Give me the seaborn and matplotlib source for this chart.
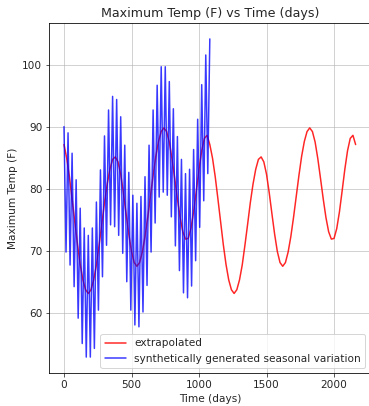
import matplotlib
matplotlib.use("Agg")
import matplotlib.pyplot as plt
import seaborn as sns
import pandas as pd

# ---- data ----
red_days = list(range(0, 2161, 20))
red_temp = [
    87.2, 85.0, 82.0, 78.4, 74.7, 71.0, 67.8, 65.3, 63.7, 63.1,
    63.7, 65.3, 67.7, 70.9, 74.3, 77.8, 80.8, 83.2, 84.8, 85.2,
    84.4, 82.4, 79.4, 76.0, 72.7, 69.9, 68.1, 67.5, 68.1, 69.8,
    72.3, 75.4, 78.8, 82.2, 85.3, 87.7, 89.3, 89.9, 89.3, 87.6,
    84.9, 81.7, 78.4, 75.4, 73.1, 71.9, 72.0, 73.6, 76.3, 79.7,
    83.2, 86.2, 88.2, 88.7,
    87.2, 85.0, 82.0, 78.4, 74.7, 71.0, 67.8, 65.3, 63.7, 63.1,
    63.7, 65.3, 67.7, 70.9, 74.3, 77.8, 80.8, 83.2, 84.8, 85.2,
    84.4, 82.4, 79.4, 76.0, 72.7, 69.9, 68.1, 67.5, 68.1, 69.8,
    72.3, 75.4, 78.8, 82.2, 85.3, 87.7, 89.3, 89.9, 89.3, 87.6,
    84.9, 81.7, 78.4, 75.4, 73.1, 71.9, 72.0, 73.6, 76.3, 79.7,
    83.2, 86.2, 88.2, 88.7, 87.2,
]

blue_days = list(range(0, 1081, 15))
blue_temp = [
    90.1, 69.8, 89.1, 67.7, 85.8, 64.2, 81.5, 59.1, 76.9, 55.0,
    73.7, 52.8, 72.5, 52.8, 73.7, 54.2, 77.9, 60.4, 83.1, 65.8,
    88.6, 70.9, 92.8, 74.2, 95.0, 73.9, 94.5, 72.5, 91.7, 69.6,
    87.1, 65.0, 82.7, 60.4, 79.0, 58.0, 77.7, 57.7, 78.8, 60.1,
    82.0, 64.4, 87.1, 69.8, 92.8, 74.5, 96.8, 78.7, 99.8, 79.5,
    99.8, 79.0, 97.4, 75.5, 93.0, 70.8, 88.5, 66.8, 84.8, 63.2,
    82.5, 62.4, 83.2, 64.3, 86.4, 68.4, 91.3, 73.8, 96.9, 78.1,
    101.7, 82.5, 104.3,
]

red_label = "extrapolated"
blue_label = "synthetically generated seasonal variation"
title = "Maximum Temp (F) vs Time (days)"
xlabel = "Time (days)"
ylabel = "Maximum Temp (F)"

red_df = pd.DataFrame({"day": red_days, "temp": red_temp})
blue_df = pd.DataFrame({"day": blue_days, "temp": blue_temp})

sns.set_style("ticks")
plt.rcParams["font.family"] = ["DejaVu Sans"]

fig = plt.figure(figsize=(369 / 72, 406 / 72), dpi=72)
ax = fig.add_axes([0.1339, 0.0813, 0.8694, 0.862])

sns.lineplot(data=red_df, x="day", y="temp", color="red", alpha=0.85,
             linewidth=1.5, label=red_label, ax=ax)
sns.lineplot(data=blue_df, x="day", y="temp", color="blue", alpha=0.78,
             linewidth=1.5, label=blue_label, ax=ax)

ax.grid(True, color="#b0b0b0", linewidth=0.8, alpha=0.7)
ax.set_axisbelow(True)
for s in ax.spines.values():
    s.set_color("black")
    s.set_linewidth(0.8)
ax.spines["right"].set_visible(False)
ax.tick_params(labelsize=10.5, length=3.5, width=0.8, color="#333333")

ax.set_xticks([0, 500, 1000, 1500, 2000])
ax.set_yticks([60, 70, 80, 90, 100])
ax.set_title(title, fontsize=12.6)
ax.set_xlabel(xlabel, fontsize=10.5)
ax.set_ylabel(ylabel, fontsize=10.5)

ax.legend(loc="lower right", fontsize=10.5, frameon=True)

fig.savefig("out.png", dpi=72)
